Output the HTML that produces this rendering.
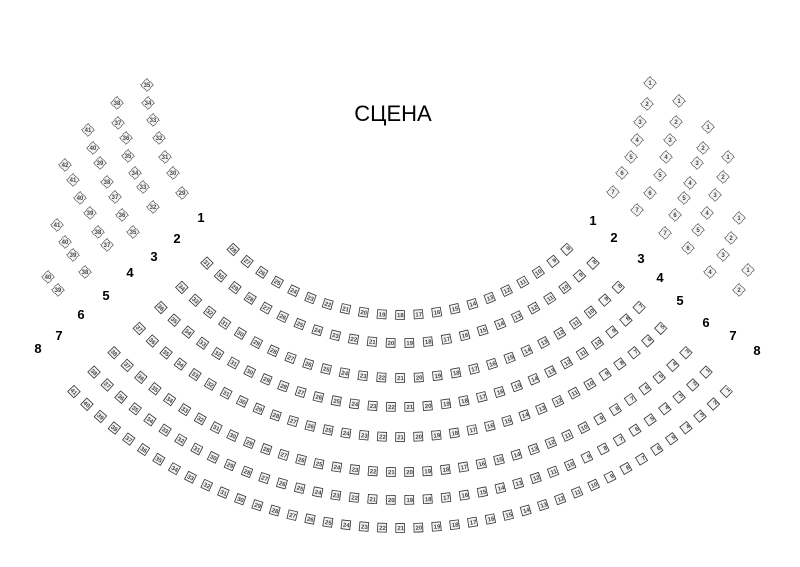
<!DOCTYPE html>
<html><head><meta charset="utf-8"><style>
html,body{margin:0;padding:0;background:#fff;}
svg{display:block;font-family:"Liberation Sans",sans-serif;}
.o{fill:none;stroke:#333;stroke-width:9.6;}
.i{fill:none;stroke:#f4f4f4;stroke-width:8;}
.n{font-size:6px;fill:#444;font-weight:bold;}
.s rect{fill:#f4f4f4;stroke:#222;stroke-width:0.9;stroke-dasharray:1 0.8;}
.s text{font-size:6px;fill:#444;font-weight:bold;text-anchor:middle;}
.l{font-size:13px;font-weight:bold;text-anchor:middle;fill:#000;}
</style></head><body>
<svg width="800" height="567" viewBox="0 0 800 567" xmlns="http://www.w3.org/2000/svg">
<text x="393" y="121" font-size="22" text-anchor="middle" fill="#000">СЦЕНА</text>
<defs>
<path id="r1" d="M229.8,246.2 A245,245 0 0 0 570.2,246.2"/>
<path id="r2" d="M203.6,259.7 A273,273 0 0 0 596.4,259.7"/>
<path id="r3" d="M178.5,284 A308,308 0 0 0 621.5,284"/>
<path id="r4" d="M157.6,304.1 A337,337 0 0 0 642.4,304.1"/>
<path id="r5" d="M136,325 A367,367 0 0 0 664,325"/>
<path id="r6" d="M110.8,349.3 A402,402 0 0 0 689.2,349.3"/>
<path id="r7" d="M90.7,368.7 A430,430 0 0 0 709.3,368.7"/>
<path id="r8" d="M70.6,388.2 A458,458 0 0 0 729.4,388.2"/>
</defs>
<g>
<use href="#r1" class="o" stroke-dasharray="9.6 8.74"/><use href="#r1" class="i" stroke-dasharray="8 10.34" stroke-dashoffset="17.54"/>
<use href="#r2" class="o" stroke-dasharray="9.6 9.04"/><use href="#r2" class="i" stroke-dasharray="8 10.64" stroke-dashoffset="17.84"/>
<use href="#r3" class="o" stroke-dasharray="9.6 9.05"/><use href="#r3" class="i" stroke-dasharray="8 10.65" stroke-dashoffset="17.85"/>
<use href="#r4" class="o" stroke-dasharray="9.6 8.73"/><use href="#r4" class="i" stroke-dasharray="8 10.33" stroke-dashoffset="17.53"/>
<use href="#r5" class="o" stroke-dasharray="9.6 8.52"/><use href="#r5" class="i" stroke-dasharray="8 10.12" stroke-dashoffset="17.32"/>
<use href="#r6" class="o" stroke-dasharray="9.6 8.57"/><use href="#r6" class="i" stroke-dasharray="8 10.17" stroke-dashoffset="17.37"/>
<use href="#r7" class="o" stroke-dasharray="9.6 8.8"/><use href="#r7" class="i" stroke-dasharray="8 10.4" stroke-dashoffset="17.6"/>
<use href="#r8" class="o" stroke-dasharray="9.6 8.55"/><use href="#r8" class="i" stroke-dasharray="8 10.15" stroke-dashoffset="17.35"/>
</g>
<g class="n">
<text dy="2.2" word-spacing="10.0"><textPath href="#r1" startOffset="1.5">28 27 26 25 24 23 22 21 20 19 18 17 16 15 14 13 12 11 10 &#8199;9 &#8199;8</textPath></text>
<text dy="2.2" word-spacing="10.3"><textPath href="#r2" startOffset="1.5">31 30 29 28 27 26 25 24 23 22 21 20 19 18 17 16 15 14 13 12 11 10 &#8199;9 &#8199;8</textPath></text>
<text dy="2.2" word-spacing="10.31"><textPath href="#r3" startOffset="1.5">34 33 32 31 30 29 28 27 26 25 24 23 22 21 20 19 18 17 16 15 14 13 12 11 10 &#8199;9 &#8199;8</textPath></text>
<text dy="2.2" word-spacing="9.99"><textPath href="#r4" startOffset="1.5">36 35 34 33 32 31 30 29 28 27 26 25 24 23 22 21 20 19 18 17 16 15 14 13 12 11 10 &#8199;9 &#8199;8 &#8199;7</textPath></text>
<text dy="2.2" word-spacing="9.78"><textPath href="#r5" startOffset="1.5">37 36 35 34 33 32 31 30 29 28 27 26 25 24 23 22 21 20 19 18 17 16 15 14 13 12 11 10 &#8199;9 &#8199;8 &#8199;7 &#8199;6 &#8199;5</textPath></text>
<text dy="2.2" word-spacing="9.83"><textPath href="#r6" startOffset="1.5">38 37 36 35 34 33 32 31 30 29 28 27 26 25 24 23 22 21 20 19 18 17 16 15 14 13 12 11 10 &#8199;9 &#8199;8 &#8199;7 &#8199;6 &#8199;5 &#8199;4 &#8199;3</textPath></text>
<text dy="2.2" word-spacing="10.06"><textPath href="#r7" startOffset="1.5">38 37 36 35 34 33 32 31 30 29 28 27 26 25 24 23 22 21 20 19 18 17 16 15 14 13 12 11 10 &#8199;9 &#8199;8 &#8199;7 &#8199;6 &#8199;5 &#8199;4 &#8199;3 &#8199;2 &#8199;1</textPath></text>
<text dy="2.2" word-spacing="9.81"><textPath href="#r8" startOffset="1.5">41 40 39 38 37 36 35 34 33 32 31 30 29 28 27 26 25 24 23 22 21 20 19 18 17 16 15 14 13 12 11 10 &#8199;9 &#8199;8 &#8199;7 &#8199;6 &#8199;5 &#8199;4 &#8199;3 &#8199;2 &#8199;1</textPath></text>
</g>
<g class="s">
<rect x="645.5" y="78.5" width="9" height="9" transform="rotate(45 650 83)"/><text x="650" y="85">1</text>
<rect x="642.5" y="99.5" width="9" height="9" transform="rotate(45 647 104)"/><text x="647" y="106">2</text>
<rect x="635.5" y="117.5" width="9" height="9" transform="rotate(45 640 122)"/><text x="640" y="124">3</text>
<rect x="632.5" y="135.5" width="9" height="9" transform="rotate(45 637 140)"/><text x="637" y="142">4</text>
<rect x="626.5" y="152.5" width="9" height="9" transform="rotate(45 631 157)"/><text x="631" y="159">5</text>
<rect x="617.5" y="168.5" width="9" height="9" transform="rotate(45 622 173)"/><text x="622" y="175">6</text>
<rect x="608.5" y="187.5" width="9" height="9" transform="rotate(45 613 192)"/><text x="613" y="194">7</text>
<rect x="674.5" y="96.5" width="9" height="9" transform="rotate(45 679 101)"/><text x="679" y="103">1</text>
<rect x="671.5" y="117.5" width="9" height="9" transform="rotate(45 676 122)"/><text x="676" y="124">2</text>
<rect x="665.5" y="135.5" width="9" height="9" transform="rotate(45 670 140)"/><text x="670" y="142">3</text>
<rect x="661.5" y="152.5" width="9" height="9" transform="rotate(45 666 157)"/><text x="666" y="159">4</text>
<rect x="655.5" y="170.5" width="9" height="9" transform="rotate(45 660 175)"/><text x="660" y="177">5</text>
<rect x="645.5" y="188.5" width="9" height="9" transform="rotate(45 650 193)"/><text x="650" y="195">6</text>
<rect x="632.5" y="205.5" width="9" height="9" transform="rotate(45 637 210)"/><text x="637" y="212">7</text>
<rect x="703.5" y="122.5" width="9" height="9" transform="rotate(45 708 127)"/><text x="708" y="129">1</text>
<rect x="698.5" y="143.5" width="9" height="9" transform="rotate(45 703 148)"/><text x="703" y="150">2</text>
<rect x="692.5" y="158.5" width="9" height="9" transform="rotate(45 697 163)"/><text x="697" y="165">3</text>
<rect x="685.5" y="178.5" width="9" height="9" transform="rotate(45 690 183)"/><text x="690" y="185">4</text>
<rect x="679.5" y="193.5" width="9" height="9" transform="rotate(45 684 198)"/><text x="684" y="200">5</text>
<rect x="670.5" y="210.5" width="9" height="9" transform="rotate(45 675 215)"/><text x="675" y="217">6</text>
<rect x="660.5" y="228.5" width="9" height="9" transform="rotate(45 665 233)"/><text x="665" y="235">7</text>
<rect x="723.5" y="152.5" width="9" height="9" transform="rotate(45 728 157)"/><text x="728" y="159">1</text>
<rect x="718.5" y="172.5" width="9" height="9" transform="rotate(45 723 177)"/><text x="723" y="179">2</text>
<rect x="710.5" y="190.5" width="9" height="9" transform="rotate(45 715 195)"/><text x="715" y="197">3</text>
<rect x="702.5" y="208.5" width="9" height="9" transform="rotate(45 707 213)"/><text x="707" y="215">4</text>
<rect x="693.5" y="225.5" width="9" height="9" transform="rotate(45 698 230)"/><text x="698" y="232">5</text>
<rect x="683.5" y="243.5" width="9" height="9" transform="rotate(45 688 248)"/><text x="688" y="250">6</text>
<rect x="734.5" y="213.5" width="9" height="9" transform="rotate(45 739 218)"/><text x="739" y="220">1</text>
<rect x="726.5" y="233.5" width="9" height="9" transform="rotate(45 731 238)"/><text x="731" y="240">2</text>
<rect x="718.5" y="250.5" width="9" height="9" transform="rotate(45 723 255)"/><text x="723" y="257">3</text>
<rect x="705.5" y="267.5" width="9" height="9" transform="rotate(45 710 272)"/><text x="710" y="274">4</text>
<rect x="743.5" y="265.5" width="9" height="9" transform="rotate(45 748 270)"/><text x="748" y="272">1</text>
<rect x="734.5" y="285.5" width="9" height="9" transform="rotate(45 739 290)"/><text x="739" y="292">2</text>
<rect x="142.5" y="80.5" width="9" height="9" transform="rotate(45 147 85)"/><text x="147" y="87">35</text>
<rect x="143.5" y="98.5" width="9" height="9" transform="rotate(45 148 103)"/><text x="148" y="105">34</text>
<rect x="148.5" y="115.5" width="9" height="9" transform="rotate(45 153 120)"/><text x="153" y="122">33</text>
<rect x="154.5" y="133.5" width="9" height="9" transform="rotate(45 159 138)"/><text x="159" y="140">32</text>
<rect x="160.5" y="152.5" width="9" height="9" transform="rotate(45 165 157)"/><text x="165" y="159">31</text>
<rect x="168.5" y="168.5" width="9" height="9" transform="rotate(45 173 173)"/><text x="173" y="175">30</text>
<rect x="177.5" y="188.5" width="9" height="9" transform="rotate(45 182 193)"/><text x="182" y="195">29</text>
<rect x="112.5" y="98.5" width="9" height="9" transform="rotate(45 117 103)"/><text x="117" y="105">38</text>
<rect x="113.5" y="118.5" width="9" height="9" transform="rotate(45 118 123)"/><text x="118" y="125">37</text>
<rect x="121.5" y="133.5" width="9" height="9" transform="rotate(45 126 138)"/><text x="126" y="140">36</text>
<rect x="123.5" y="151.5" width="9" height="9" transform="rotate(45 128 156)"/><text x="128" y="158">35</text>
<rect x="130.5" y="168.5" width="9" height="9" transform="rotate(45 135 173)"/><text x="135" y="175">34</text>
<rect x="138.5" y="182.5" width="9" height="9" transform="rotate(45 143 187)"/><text x="143" y="189">33</text>
<rect x="148.5" y="202.5" width="9" height="9" transform="rotate(45 153 207)"/><text x="153" y="209">32</text>
<rect x="83.5" y="125.5" width="9" height="9" transform="rotate(45 88 130)"/><text x="88" y="132">41</text>
<rect x="88.5" y="143.5" width="9" height="9" transform="rotate(45 93 148)"/><text x="93" y="150">40</text>
<rect x="95.5" y="158.5" width="9" height="9" transform="rotate(45 100 163)"/><text x="100" y="165">39</text>
<rect x="102.5" y="177.5" width="9" height="9" transform="rotate(45 107 182)"/><text x="107" y="184">38</text>
<rect x="110.5" y="192.5" width="9" height="9" transform="rotate(45 115 197)"/><text x="115" y="199">37</text>
<rect x="117.5" y="210.5" width="9" height="9" transform="rotate(45 122 215)"/><text x="122" y="217">36</text>
<rect x="128.5" y="227.5" width="9" height="9" transform="rotate(45 133 232)"/><text x="133" y="234">35</text>
<rect x="60.5" y="160.5" width="9" height="9" transform="rotate(45 65 165)"/><text x="65" y="167">42</text>
<rect x="68.5" y="175.5" width="9" height="9" transform="rotate(45 73 180)"/><text x="73" y="182">41</text>
<rect x="75.5" y="193.5" width="9" height="9" transform="rotate(45 80 198)"/><text x="80" y="200">40</text>
<rect x="85.5" y="208.5" width="9" height="9" transform="rotate(45 90 213)"/><text x="90" y="215">39</text>
<rect x="93.5" y="227.5" width="9" height="9" transform="rotate(45 98 232)"/><text x="98" y="234">38</text>
<rect x="102.5" y="240.5" width="9" height="9" transform="rotate(45 107 245)"/><text x="107" y="247">37</text>
<rect x="52.5" y="220.5" width="9" height="9" transform="rotate(45 57 225)"/><text x="57" y="227">41</text>
<rect x="60.5" y="237.5" width="9" height="9" transform="rotate(45 65 242)"/><text x="65" y="244">40</text>
<rect x="68.5" y="250.5" width="9" height="9" transform="rotate(45 73 255)"/><text x="73" y="257">39</text>
<rect x="80.5" y="267.5" width="9" height="9" transform="rotate(45 85 272)"/><text x="85" y="274">38</text>
<rect x="43.5" y="272.5" width="9" height="9" transform="rotate(45 48 277)"/><text x="48" y="279">40</text>
<rect x="53.5" y="285.5" width="9" height="9" transform="rotate(45 58 290)"/><text x="58" y="292">39</text>
</g>
<g class="l">
<text x="201" y="222">1</text><text x="177" y="243">2</text><text x="154" y="261">3</text><text x="130" y="277">4</text>
<text x="106" y="300">5</text><text x="81" y="319">6</text><text x="59" y="340">7</text><text x="38" y="353">8</text>
<text x="593" y="225">1</text><text x="614" y="242">2</text><text x="641" y="263">3</text><text x="660" y="282">4</text>
<text x="680" y="305">5</text><text x="706" y="327">6</text><text x="733" y="340">7</text><text x="757" y="355">8</text>
</g>
</svg>
</body></html>
